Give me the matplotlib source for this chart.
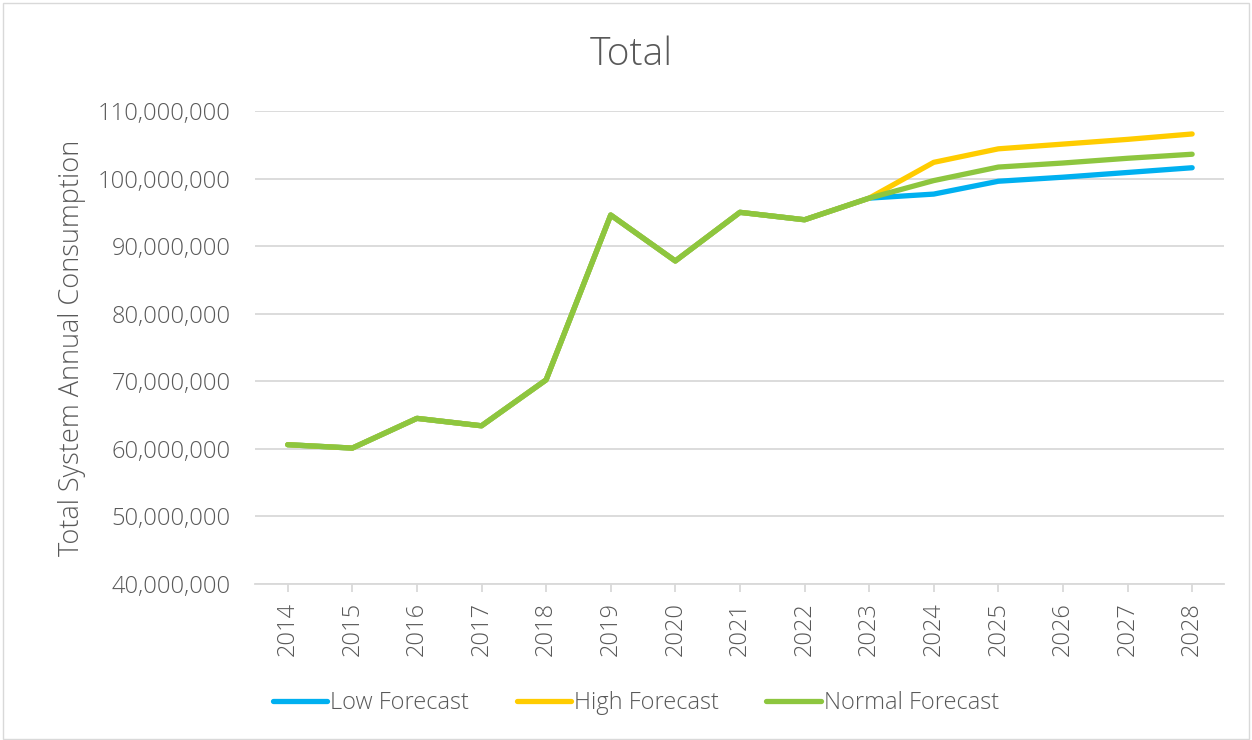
import matplotlib.pyplot as plt
from matplotlib.ticker import FuncFormatter

years = [str(y) for y in range(2014, 2029)]
history = [60.6, 60.1, 64.5, 63.4, 70.2, 94.6, 87.8, 95.0, 93.9, 97.1]
low_future = [97.7, 99.6, 100.2, 100.9, 101.6]
high_future = [102.4, 104.4, 105.1, 105.8, 106.6]
normal_future = [99.7, 101.7, 102.3, 103.0, 103.6]

low = [v * 1e6 for v in history + low_future]
high = [v * 1e6 for v in history + high_future]
normal = [v * 1e6 for v in history + normal_future]

plt.rcParams['font.family'] = ['Open Sans', 'DejaVu Sans']
txt = '#595959'
W = 300

fig = plt.figure(figsize=(12.52, 7.4), dpi=100)
ax = fig.add_axes([0.204, 0.211, 0.774, 0.639])
x = range(len(years))
ax.plot(x, low, color='#00B0F0', lw=3.8, solid_capstyle='round', label='Low Forecast')
ax.plot(x, high, color='#FFCC00', lw=3.8, solid_capstyle='round', label='High Forecast')
ax.plot(x, normal, color='#8DC63F', lw=3.8, solid_capstyle='round', label='Normal Forecast')

ax.set_xlim(-0.5, len(years) - 0.5)
ax.set_ylim(40e6, 110e6)
ax.set_yticks(range(40000000, 110000001, 10000000))
ax.yaxis.set_major_formatter(FuncFormatter(lambda v, p: f'{int(v):,}'))
ax.set_xticks(list(x))
ax.set_xticklabels(years, rotation=90)
ax.grid(axis='y', color='#d9d9d9', lw=1.3)
ax.set_axisbelow(True)
for s in ['top', 'right', 'left']:
    ax.spines[s].set_visible(False)
ax.spines['bottom'].set_color('#d9d9d9')
ax.spines['bottom'].set_linewidth(1.3)
ax.tick_params(axis='y', length=0, pad=18, labelsize=17, labelcolor=txt)
ax.tick_params(axis='x', length=6, color='#d9d9d9', width=1.3, pad=7,
               labelsize=17, labelcolor=txt)
for t in ax.get_xticklabels() + ax.get_yticklabels():
    t.set_fontweight(W)
ax.set_ylabel('Total System Annual Consumption', fontsize=19.5, color=txt,
              fontweight=W, labelpad=8)
fig.text(0.504, 0.926, 'Total', ha='center', va='center', fontsize=28,
         color=txt, fontweight=W)

leg = fig.legend(loc='center', bbox_to_anchor=(0.508, 0.05), ncol=3, frameon=False,
                 fontsize=17, handlelength=2.3, handletextpad=0.15, columnspacing=2.0)
for t in leg.get_texts():
    t.set_color(txt)
    t.set_fontweight(W)

fig.patches.append(plt.Rectangle((0.002, 0.002), 0.996, 0.994, transform=fig.transFigure,
                                 fill=False, edgecolor='#d9d9d9', lw=1))
fig.savefig('out.png', dpi=100)
